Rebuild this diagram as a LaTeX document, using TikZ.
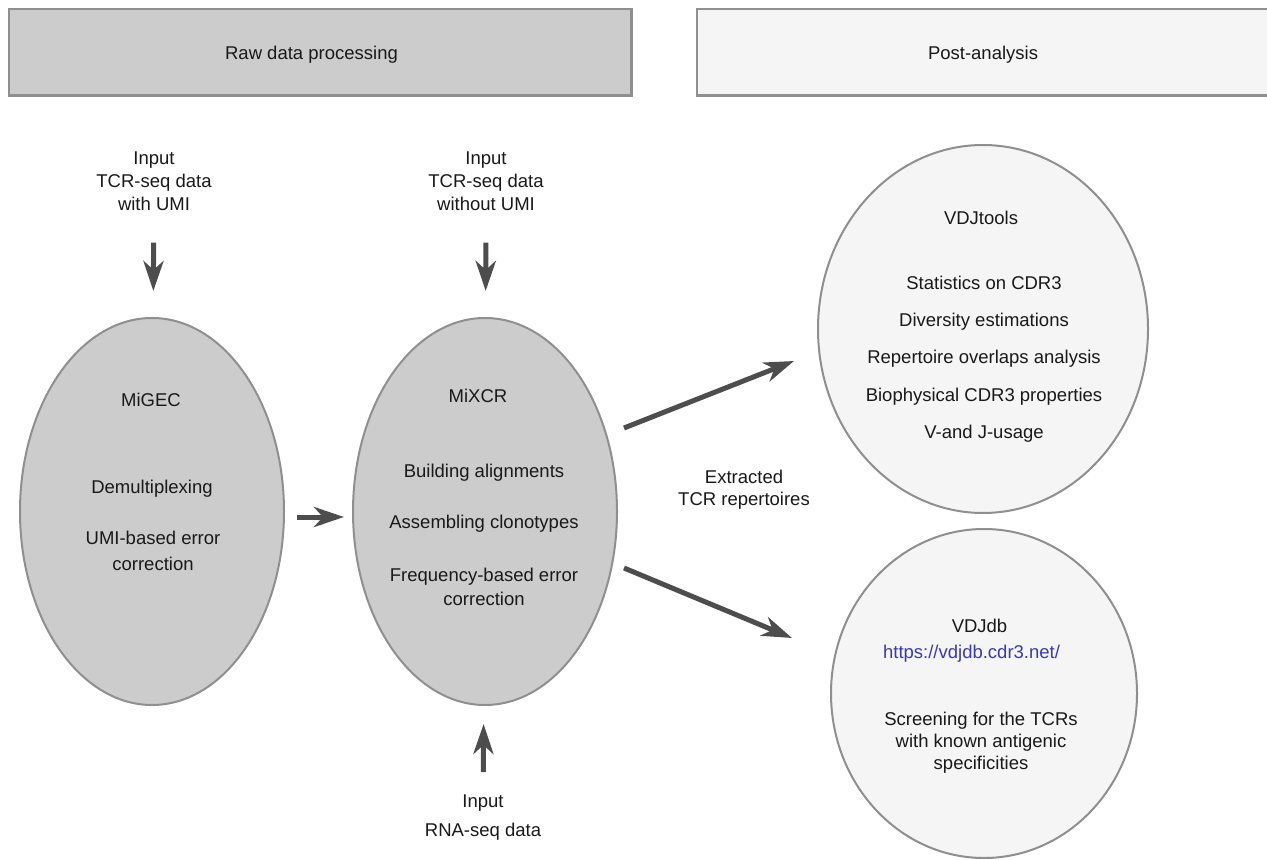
\documentclass[tikz,border=0pt]{standalone}
\usepackage{fontspec}
\setmainfont{Liberation Sans}
\usetikzlibrary{arrows.meta,shapes.geometric}
\definecolor{boxgray}{HTML}{CCCCCC}
\definecolor{boxlight}{HTML}{F5F5F5}
\definecolor{edgegray}{HTML}{8F8F8F}
\definecolor{arrgray}{HTML}{4D4D4D}
\definecolor{urlblue}{HTML}{3A3AAE}
\tikzset{
  hdrbox/.style={draw=edgegray, line width=1.25pt, minimum height=43.35pt, inner sep=0pt},
  tool/.style={ellipse, draw=edgegray, line width=1pt, inner sep=0pt},
  txt/.style={align=center, anchor=base, inner sep=0pt, text=black!90, font=\fontsize{9.25pt}{11.5pt}\selectfont},
  flow/.style={-{Stealth[length=15pt,width=10pt,inset=4.5pt]}, line width=2.5pt, draw=arrgray}
}

\begin{document}
\begin{tikzpicture}[x=0.5pt, y=-0.5pt]
\useasboundingbox (0,0) rectangle (1267,860);
% headers
\node[hdrbox, fill=boxgray, minimum width=311.25pt] (raw) at (320.25,52.35) {};
\node[hdrbox, fill=boxlight, minimum width=286pt] (post) at (983,52.35) {};
\node[txt] (rawlbl) at (311.5,60) {Raw data processing};
\node[txt] (postlbl) at (983,60) {Post-analysis};
% tools
\node[tool, fill=boxgray, minimum width=132pt, minimum height=193.5pt] (migec) at (152,511.5) {};
\node[tool, fill=boxgray, minimum width=132pt, minimum height=193.5pt] (mixcr) at (485,511.5) {};
\node[tool, fill=boxlight, minimum width=165pt, minimum height=184pt] (vdjtools) at (983,329) {};
\node[tool, fill=boxlight, minimum width=153pt, minimum height=164.5pt] (vdjdb) at (984,693.5) {};
% inputs (base = last line)
\node[txt] (in1) at (154,211) {Input\\TCR-seq data\\with UMI};
\node[txt] (in2) at (486,211) {Input\\TCR-seq data\\without UMI};
\node[txt, font=\fontsize{9.25pt}{14.5pt}\selectfont] (in3) at (483,836) {Input\\RNA-seq data};
% MiGEC
\node[txt] (migecname) at (151,407) {MiGEC};
\node[txt] (demux) at (152,493) {Demultiplexing};
\node[txt, font=\fontsize{9.25pt}{13pt}\selectfont] (umicorr) at (153,570) {UMI-based error\\correction};
% MiXCR
\node[txt] (mixcrname) at (478,403) {MiXCR};
\node[txt, font=\fontsize{9.25pt}{12pt}\selectfont] (mixcrsteps) at (484,605)
  {Building alignments\\[13.5pt]Assembling clonotypes\\[14.5pt]Frequency-based error\\correction};
% post-analysis
\node[txt] (vdjtname) at (981,225) {VDJtools};
\node[txt, font=\fontsize{9.25pt}{18.5pt}\selectfont] (vdjtlist) at (984,438)
  {Statistics on CDR3\\Diversity estimations\\Repertoire overlaps analysis\\Biophysical CDR3 properties\\V-and J-usage};
\node[txt] (vdjdbname) at (979.5,632) {VDJdb};
\node[txt, text=urlblue] (vdjdburl) at (971.5,658) {https://vdjdb.cdr3.net/};
\node[txt, font=\fontsize{9.25pt}{11pt}\selectfont] (screen) at (981,769) {Screening for the TCRs\\with known antigenic\\specificities};
\node[txt, font=\fontsize{9.25pt}{11pt}\selectfont] (extracted) at (744,505) {Extracted\\TCR repertoires};
% arrows
\draw[flow, shorten <=15.5pt, shorten >=13pt] (in1) -- (migec);
\draw[flow, shorten <=15.5pt, shorten >=13pt] (in2) -- (mixcr);
\draw[flow, shorten <=10.85pt, shorten >=9pt] (in3) -- (mixcr);
\draw[flow] ([shift={(12,5.5)}]migec.east) -- ([shift={(-8,5.5)}]mixcr.west);
\draw[flow] ([shift={(6,-83.5)}]mixcr.east) -- ([shift={(-23,32)}]vdjtools.west);
\draw[flow] ([shift={(6,56.5)}]mixcr.east) -- ([shift={(-38,-55.5)}]vdjdb.west);
\end{tikzpicture}
\end{document}
